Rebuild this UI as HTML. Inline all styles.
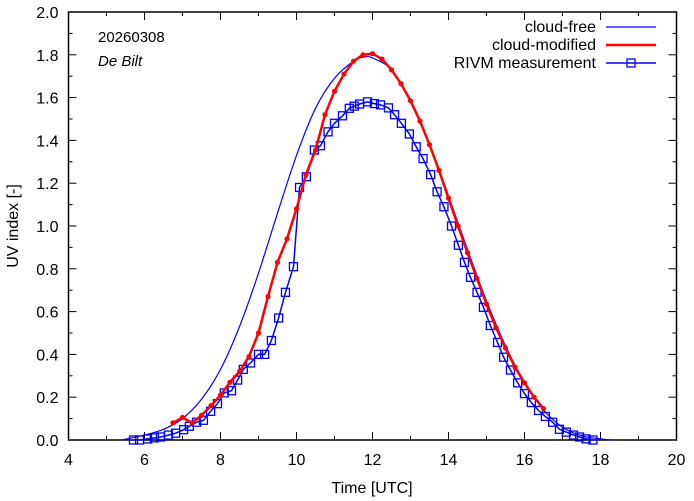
<!DOCTYPE html>
<html><head><meta charset="utf-8"><style>
html,body{margin:0;padding:0;background:#fff;}
svg{display:block;font-family:"Liberation Sans",sans-serif;}
</style></head><body>
<svg id="chart" width="694" height="501">
<text x="98" y="42" font-size="15">20260308</text>
<text x="98" y="66" font-size="15" font-style="italic">De Bilt</text>
<text x="372" y="493" font-size="16" text-anchor="middle">Time  [UTC]</text>
<text transform="translate(18,226) rotate(-90)" font-size="16" text-anchor="middle">UV index  [-]</text>
</svg>
<script>
const xTicks=[4,6,8,10,12,14,16,18,20];
const yTicks=[0,0.2,0.4,0.6,0.8,1.0,1.2,1.4,1.6,1.8,2.0];
const clearTimes=[5.4,6,6.5,7,7.5,8,8.5,9,9.5,10,10.5,11,11.5,11.8,12,12.5,13,13.5,14,14.5,15,15.5,16,16.5,17,17.5,18,18.3];
const clearUV=[0,0.023,0.05,0.1,0.19,0.33,0.53,0.78,1.06,1.33,1.55,1.69,1.77,1.79,1.785,1.73,1.58,1.38,1.14,0.89,0.65,0.44,0.27,0.14,0.06,0.02,0.005,0];
const modTimes=[6.75,7,7.25,7.5,7.75,8,8.25,8.5,8.75,9,9.25,9.5,9.75,10,10.25,10.5,10.75,11,11.25,11.5,11.75,12,12.25,12.5,12.75,13,13.25,13.5,13.75,14,14.25,14.5,14.75,15,15.25,15.5,15.75,16,16.25,16.5];
const modUV=[0.08,0.105,0.08,0.115,0.16,0.21,0.27,0.32,0.39,0.5,0.67,0.83,0.94,1.08,1.24,1.355,1.52,1.63,1.71,1.77,1.8,1.805,1.78,1.73,1.665,1.585,1.49,1.38,1.26,1.13,1.0,0.875,0.755,0.635,0.525,0.43,0.34,0.267,0.2,0.147];
const measTimes=[5.71,5.87,6.08,6.26,6.42,6.63,6.82,7.03,7.18,7.37,7.55,7.74,7.92,8.1,8.29,8.45,8.6,8.79,9.0,9.16,9.34,9.53,9.71,9.92,10.08,10.26,10.47,10.63,10.83,11.0,11.21,11.39,11.52,11.66,11.87,12.05,12.21,12.42,12.58,12.76,12.97,13.15,13.33,13.53,13.7,13.88,14.08,14.26,14.42,14.58,14.75,14.92,15.1,15.29,15.45,15.63,15.82,16.0,16.18,16.37,16.55,16.74,16.92,17.1,17.29,17.45,17.62,17.8];
const measUV=[0,0,0.005,0.01,0.014,0.023,0.032,0.048,0.064,0.083,0.092,0.134,0.17,0.22,0.23,0.28,0.33,0.36,0.4,0.4,0.465,0.57,0.69,0.81,1.18,1.23,1.355,1.375,1.44,1.48,1.515,1.55,1.56,1.57,1.58,1.572,1.566,1.552,1.52,1.48,1.43,1.37,1.315,1.24,1.16,1.09,1.0,0.91,0.83,0.76,0.69,0.62,0.535,0.456,0.387,0.327,0.267,0.217,0.175,0.138,0.11,0.083,0.05,0.037,0.023,0.014,0.005,0];
const L=68.5,R=676.5,T=12,B=440;
const sx=v=>L+(v-4)/16*(R-L);
const sy=v=>B-v/2*(B-T);
const svg=document.getElementById('chart');
const NS='http://www.w3.org/2000/svg';
function mk(tag,at){const e=document.createElementNS(NS,tag);for(const k in at)e.setAttribute(k,at[k]);svg.appendChild(e);return e;}
for(let v=4;v<=20;v+=1){const len=(v%2===0)?8:4;
 const t1=mk('line',{x1:sx(v),x2:sx(v),y1:B,y2:B-len,stroke:'#000','stroke-width':1});
 
 
 const t2=mk('line',{x1:sx(v),x2:sx(v),y1:T,y2:T+len,stroke:'#000','stroke-width':1});
 
 }
for(let i=0;i<=20;i++){const v=i/10;const len=(i%2===0)?8:4;
 const t1=mk('line',{x1:L,x2:L+len,y1:sy(v),y2:sy(v),stroke:'#000','stroke-width':1});
 
 
 const t2=mk('line',{x1:R,x2:R-len,y1:sy(v),y2:sy(v),stroke:'#000','stroke-width':1});
 
 }
xTicks.forEach(v=>{const t=mk('text',{x:sx(v),y:B+25,'font-size':16,'text-anchor':'middle'});t.textContent=v;
 
 });
yTicks.forEach(v=>{const t=mk('text',{x:L-10,y:sy(v)+6,'font-size':16,'text-anchor':'end'});t.textContent=v.toFixed(1);
 
 });
const frame=mk('rect',{x:L,y:T,width:R-L,height:B-T,fill:'none',stroke:'#000','stroke-width':1.5});


function pts(xs,ys){return xs.map((x,i)=>sx(x).toFixed(1)+','+sy(ys[i]).toFixed(1)).join(' ');}
function smooth(xs,ys){const p=xs.map((x,i)=>[sx(x),sy(ys[i])]);let d='M'+p[0][0]+','+p[0][1];
 for(let i=0;i<p.length-1;i++){const p0=p[i-1]||p[i],p1=p[i],p2=p[i+1],p3=p[i+2]||p2;
 const c1=[p1[0]+(p2[0]-p0[0])/6,p1[1]+(p2[1]-p0[1])/6],c2=[p2[0]-(p3[0]-p1[0])/6,p2[1]-(p3[1]-p1[1])/6];
 d+=' C'+c1[0].toFixed(1)+','+c1[1].toFixed(1)+' '+c2[0].toFixed(1)+','+c2[1].toFixed(1)+' '+p2[0].toFixed(1)+','+p2[1].toFixed(1);}
 return d;}
const cf=mk('path',{d:smooth(clearTimes,clearUV),fill:'none',stroke:'#0000ff','stroke-width':1.2});


const ml=mk('polyline',{points:pts(measTimes,measUV),fill:'none',stroke:'#0000ff','stroke-width':1.5});


measTimes.forEach((x,i)=>{const s=mk('rect',{x:sx(x)-4,y:sy(measUV[i])-4,width:8,height:8,fill:'none',stroke:'#0000ff','stroke-width':1.3});
 
 });
const rl=mk('polyline',{points:pts(modTimes,modUV),fill:'none',stroke:'#ff0000','stroke-width':2.5,'stroke-linejoin':'round'});


modTimes.forEach((x,i)=>{const c=mk('circle',{cx:sx(x),cy:sy(modUV[i]),r:2.6,fill:'#ff0000'});
 
 });
const leg=[['cloud-free','#0000ff',1.2,27],['cloud-modified','#ff0000',2.5,45],['RIVM measurement','#0000ff',1.5,63]];
leg.forEach((e,i)=>{const t=mk('text',{x:596,y:e[3]+5,'font-size':16,'text-anchor':'end'});t.textContent=e[0];
 
 
 const l=mk('line',{x1:606,x2:656,y1:e[3],y2:e[3],stroke:e[1],'stroke-width':e[2]});
 
 
 if(i===2){const s=mk('rect',{x:627,y:e[3]-4,width:8,height:8,fill:'none',stroke:'#0000ff','stroke-width':1.3});
 
 }});
</script>
</body></html>
